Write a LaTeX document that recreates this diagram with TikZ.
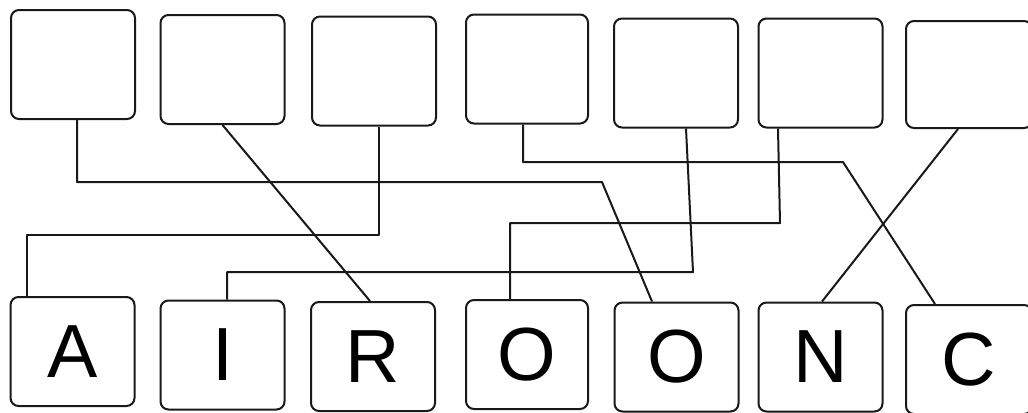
\documentclass[tikz,border=0pt]{standalone}
\usepackage{fontspec}
\setmainfont{Liberation Sans}
\usetikzlibrary{calc}
\begin{document}
\begin{tikzpicture}[x=0.75pt,y=-0.75pt,
  tile/.style={draw=black!90, line width=1.5pt, rounded corners=6pt, fill=white, inner sep=0pt,
    minimum width=93pt, minimum height=81.75pt, font=\fontsize{56.5}{60}\selectfont},
  wire/.style={draw=black!90, line width=1.5pt, line join=round}]
\useasboundingbox[fill=white] (0,0) rectangle (1028,412);
% top boxes
\node[tile] (t1) at (73,64.5) {};
\node[tile] (t2) at (222.5,69.5) {};
\node[tile] (t3) at (374,71) {};
\node[tile, minimum width=91.5pt] (t4) at (527,69) {};
\node[tile] (t5) at (676,73) {};
\node[tile] (t6) at (820.5,73) {};
\node[tile, minimum width=94.5pt, minimum height=80.25pt] (t7) at (969,74.5) {};
% bottom boxes
\node[tile] (b1) at (72.5,351.5) {A};
\node[tile] (b2) at (222.5,355) {I};
\node[tile] (b3) at (373,356.5) {R};
\node[tile, minimum width=91.5pt] (b4) at (527,354.5) {O};
\node[tile] (b5) at (676.5,357) {O};
\node[tile] (b6) at (820.5,357) {N};
\node[tile, minimum width=94.5pt] (b7) at (969,359.5) {C};
% connectors
\draw[wire] ($(t1.south)+(4,0)$) |- (602,182) -- ($(b5.north)+(-24.5,0)$);
\draw[wire] (t2.south) -- ($(b3.north)+(-3,0)$);
\draw[wire] ($(t3.south)+(5,0)$) |- (27,235) -- ($(b1.north)+(-45.5,0)$);
\draw[wire] ($(t4.south)+(-4,0)$) |- (843,162) -- ($(b7.north)+(-34,0)$);
\draw[wire] ($(t5.south)+(10,0)$) -- (693,272) -- (227,272) -- ($(b2.north)+(4.5,0)$);
\draw[wire] ($(t6.south)+(-42.5,0)$) -- (780,223) -- (510,223) -- ($(b4.north)+(-17,0)$);
\draw[wire] ($(t7.south)+(-11,0)$) -- ($(b6.north)+(1.5,0)$);
\end{tikzpicture}
\end{document}
